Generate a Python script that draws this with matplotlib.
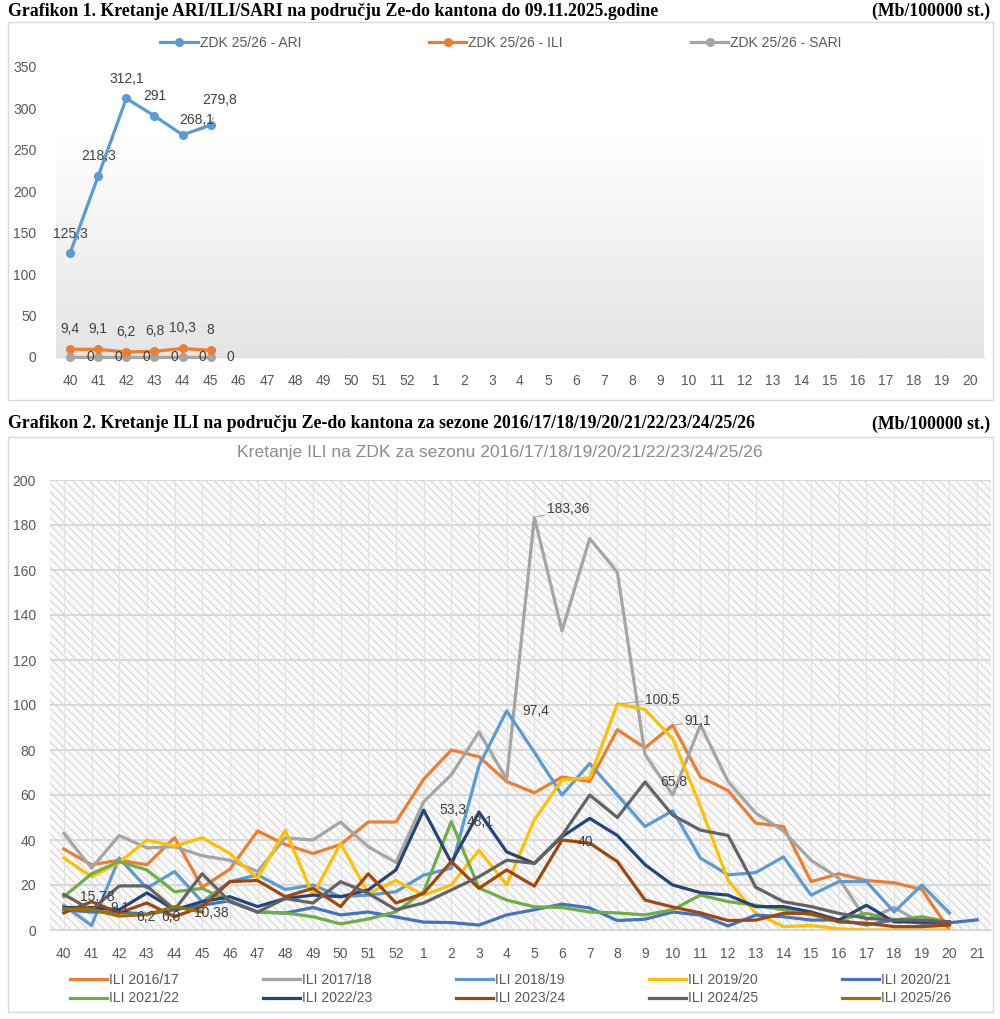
import numpy as np
import matplotlib
matplotlib.use("Agg")
import matplotlib.pyplot as plt
from matplotlib.patches import Rectangle
from matplotlib.colors import LinearSegmentedColormap

plt.rcParams['font.family'] = ['Liberation Sans', 'DejaVu Sans']

# ---------------- Grafikon 1 data
weeks1 = [str(w) for w in list(range(40, 53)) + list(range(1, 21))]
ari = [125.3, 218.3, 312.1, 291, 268.1, 279.8]
ili = [9.4, 9.1, 6.2, 6.8, 10.3, 8]
sari = [0, 0, 0, 0, 0, 0]

# ---------------- Grafikon 2 data (weeks 40..52, 1..21)
weeks2 = [str(w) for w in list(range(40, 53)) + list(range(1, 22))]
ili_1617 = [36, 29, 31, 29, 41, 19, 27, 44, 38, 34, 38, 48, 48,
            67, 80, 77, 66, 61, 68, 66, 89, 81, 91, 68, 62, 47.5, 46, 21.5, 25, 22, 21, 18, 0]
ili_1718 = [43, 27.5, 42, 36.5, 37, 33, 31, 26, 41, 40, 48, 37, 30,
            57, 69, 88, 67, 183.36, 133, 174, 159, 78, 60, 91.1, 66, 52, 44, 31, 23, 4.5, 10, 3, 3]
ili_1819 = [11, 2, 32, 18.6, 26, 12.5, 21.5, 24.5, 18, 20, 14.8, 15.5, 17,
            24.4, 27.5, 73, 97.4, 79, 60, 74, 60, 46, 53, 32, 24.5, 25.5, 32.5, 15.5, 21.5, 21.5, 8, 20, 7.6]
ili_1920 = [32, 23.7, 30, 40, 37.3, 41, 34, 23, 44.4, 15.5, 38.5, 16.3, 22,
            15.5, 20, 35.5, 20, 49, 66.7, 67.6, 100.5, 98, 85, 55, 22, 7.5, 1.5, 2, 0.5, 0, 0, 0, 0]
ili_2021 = [9, 8, 8, 7, 9, 11, 13, 8, 7.5, 10, 6.7, 8, 5.8,
            3.5, 3.3, 2.2, 6.7, 9, 11.5, 9.8, 4.2, 4.8, 8, 6.6, 1.8, 6.6, 5.9, 4.4, 4.5, 2.2, 4.5, 3, 3.2, 4.5]
ili_2122 = [14.8, 25, 30.4, 26.7, 17, 18.5, 12.6, 8, 7.6, 5.9, 2.7, 4.9, 8.1,
            17, 48.1, 18.7, 13.3, 10.3, 10, 8, 7.6, 6.7, 9, 15.5, 12.6, 11, 9, 6.7, 4.4, 7.4, 4.4, 5.9, 3.5]
ili_2223 = [10, 10, 9, 16.5, 9, 12.6, 14.8, 10.4, 14, 15.5, 14.8, 17.8, 26.7,
            53.3, 30, 52.4, 34.7, 29.6, 41.5, 49.6, 42, 29, 20, 16.6, 15.5, 10.4, 10.4, 8, 4.4, 11, 3.6, 3.6, 3.6]
ili_2324 = [7.6, 12.6, 7.6, 12, 5.9, 10.4, 21.5, 22, 14.8, 18.5, 10.4, 25, 12,
            16.3, 30.4, 18.5, 26.7, 19.5, 40, 38.6, 30.4, 13.3, 10.2, 7.6, 4.2, 4.4, 7.4, 7.4, 3.6, 3, 1.5, 1.5, 2.2]
ili_2425 = [15.78, 8.9, 19.6, 19.6, 9, 25, 12.6, 8, 14, 12, 21.5, 16.3, 9,
            12, 17.8, 23.7, 31, 29.6, 42, 60, 50, 65.8, 51, 44.4, 42, 19, 12.6, 10.4, 7.4, 5.2, 4.4, 4.4, 3.6]
ili_2526 = [9.4, 9.1, 6.2, 6.8, 10.38, 8]

seasons = ['ILI 2016/17', 'ILI 2017/18', 'ILI 2018/19', 'ILI 2019/20', 'ILI 2020/21',
           'ILI 2021/22', 'ILI 2022/23', 'ILI 2023/24', 'ILI 2024/25', 'ILI 2025/26']
series2 = [ili_1617, ili_1718, ili_1819, ili_1920, ili_2021,
           ili_2122, ili_2223, ili_2324, ili_2425, ili_2526]
colors2 = ['#ED7D31', '#A5A5A5', '#5B9BD5', '#FFC000', '#4472C4',
           '#70AD47', '#264478', '#9E480E', '#636363', '#997300']

# data labels: (series index, point index, text, dx px, dy px, leader)
labels2 = [(1, 17, '183,36', 13, 8, True), (2, 16, '97,4', 16, 0, False),
           (3, 20, '100,5', 28, 4, True), (0, 22, '91,1', 12, 4, True),
           (8, 21, '65,8', 15, 0, False), (6, 13, '53,3', 16, 0, False),
           (5, 14, '48,1', 15, 0, False), (7, 18, '40', 16, -2, False),
           (8, 0, '15,78', 16, -3, False), (9, 1, '9,1', 19, 2, False),
           (9, 2, '6,2', 17, -1, False), (9, 3, '6,8', 14, -2, False),
           (9, 4, '10,38', 19, -6, False)]

W, H = 1000, 1019
PT = 72 / 100.0  # px -> pt


def rect(x0, y0, x1, y1):
    return [x0 / W, 1 - y1 / H, (x1 - x0) / W, (y1 - y0) / H]


def fmt(v):
    return ('%g' % v).replace('.', ',')


fig = plt.figure(figsize=(W / 100, H / 100), dpi=100)
fig.patch.set_facecolor('white')

# titles
serif = dict(family='Liberation Serif', weight='bold', fontsize=12.8, color='black', va='center')
fig.text(8 / W, 1 - 11 / H, 'Grafikon 1. Kretanje ARI/ILI/SARI na području Ze-do kantona do 09.11.2025.godine',
         ha='left', **serif)
fig.text(990 / W, 1 - 11 / H, '(Mb/100000 st.)', ha='right', **serif)
fig.text(8 / W, 1 - 424 / H, 'Grafikon 2. Kretanje ILI na području Ze-do kantona za sezone 2016/17/18/19/20/21/22/23/24/25/26',
         ha='left', **serif)
fig.text(990 / W, 1 - 424 / H, '(Mb/100000 st.)', ha='right', **serif)

# outer chart frames
for y0, y1 in [(22, 400), (437, 1012)]:
    fig.patches.append(Rectangle((8 / W, 1 - y1 / H), 985 / W, (y1 - y0) / H, transform=fig.transFigure,
                                 facecolor='none', edgecolor='#D9D9D9', lw=1, zorder=-1))

# ---------------- chart 1
ax1 = fig.add_axes(rect(56, 67, 984, 357))
ax1.patch.set_alpha(0)
x1 = np.arange(len(weeks1))
ax1.set_xlim(-0.5, len(weeks1) - 0.5)
ax1.set_ylim(0, 350)
cmap = LinearSegmentedColormap.from_list('g', ['#E4E4E4', '#FFFFFF'])
ax1.imshow(np.linspace(0, 1, 100)[:, None], extent=(-0.5, len(weeks1) - 0.5, 0, 270), origin='lower',
           cmap=cmap, aspect='auto', zorder=0)
for s in ['top', 'right', 'left']:
    ax1.spines[s].set_visible(False)
ax1.spines['bottom'].set_color('#D9D9D9')
ax1.set_xticks(x1)
ax1.set_xticklabels(weeks1)
ax1.set_yticks(np.arange(0, 351, 50))
ax1.tick_params(length=0, labelsize=10, labelcolor='#595959')
ax1.tick_params(axis='y', pad=14)
ax1.tick_params(axis='x', pad=12)

kw = dict(lw=2.3, marker='o', ms=5.5, zorder=3, clip_on=False)
ax1.plot(x1[:len(sari)], sari, color='#A5A5A5', label='ZDK 25/26 - SARI', **kw)
ax1.plot(x1[:len(ili)], ili, color='#ED7D31', label='ZDK 25/26 - ILI', **kw)
ax1.plot(x1[:len(ari)], ari, color='#5B9BD5', label='ZDK 25/26 - ARI', **kw)

lab = dict(fontsize=10, color='#404040', textcoords='offset points', va='center')
ari_off = [(0, 19), (0, 20), (0, 19), (0, 20), (14, 15), (9, 25)]
for i, v in enumerate(ari):
    dx, dy = ari_off[i]
    lead = dict(arrowstyle='-', color='#A6A6A6', lw=0.8, shrinkA=6, shrinkB=4) if i == 5 else None
    ax1.annotate(fmt(v), (x1[i], v), xytext=(dx * PT, dy * PT), ha='center', arrowprops=lead, **lab)
for i, v in enumerate(ili):
    ax1.annotate(fmt(v), (x1[i], v), xytext=(0, 20 * PT), ha='center', **lab)
for i, v in enumerate(sari):
    ax1.annotate(fmt(v), (x1[i], v), xytext=(20 * PT, 0), ha='center', **lab)

h, l = ax1.get_legend_handles_labels()
ax1.legend(h[::-1], l[::-1], ncol=3, loc='center', bbox_to_anchor=((501 - 56) / 928.0, 1 + (67 - 43) / 290.0),
           frameon=False, fontsize=10, handlelength=2.7, handletextpad=0.15, columnspacing=9.2,
           labelcolor='#595959', borderpad=0)

# ---------------- chart 2
fig.text(500 / W, 1 - 452 / H, 'Kretanje ILI na ZDK za sezonu 2016/17/18/19/20/21/22/23/24/25/26',
         ha='center', va='center', fontsize=12.6, color='#8C8C8C')

plt.rcParams['hatch.linewidth'] = 1.0
ax2 = fig.add_axes(rect(50, 480, 991, 930))
ax2.patch.set_alpha(0)
x2 = np.arange(len(weeks2))
ax2.set_xlim(-0.5, len(weeks2) - 0.5)
ax2.set_ylim(0, 200)
ax2.add_patch(Rectangle((0, 0), 1, 1, transform=ax2.transAxes, facecolor='#FAFAFA',
                        edgecolor='#DDDDDD', hatch='\\\\\\\\', lw=0, zorder=0))
for s in ['top', 'right', 'left']:
    ax2.spines[s].set_visible(False)
ax2.spines['bottom'].set_color('#D9D9D9')
ax2.set_xticks(x2)
ax2.set_xticklabels(weeks2)
ax2.set_yticks(np.arange(0, 201, 20))
ax2.grid(axis='y', color='#D6D6D6', lw=1.3, zorder=1)
ax2.grid(axis='x', color='#E2E2E2', lw=0.8, zorder=1)
ax2.tick_params(length=0, labelsize=10, labelcolor='#595959')
ax2.tick_params(axis='y', pad=10)
ax2.tick_params(axis='x', pad=12)

lines2 = []
for name, vals, c in zip(seasons, series2, colors2):
    ln, = ax2.plot(x2[:len(vals)], vals, color=c, lw=2.3, label=name, zorder=3)
    lines2.append(ln)

for si, pi, txt, dx, dy, leader in labels2:
    v = series2[si][pi]
    ax2.annotate(txt, (x2[pi], v), xytext=(dx * PT, dy * PT), textcoords='offset points',
                 ha='left', va='center', fontsize=10, color='#404040', zorder=5,
                 arrowprops=dict(arrowstyle='-', color='#A6A6A6', lw=0.8, shrinkA=0, shrinkB=2) if leader else None)

# legend filled row by row (matplotlib fills column by column)
order = [0, 5, 1, 6, 2, 7, 3, 8, 4, 9]
ax2.legend([lines2[i] for i in order], [seasons[i] for i in order], ncol=5, loc='upper left',
           bbox_to_anchor=(14 / 941, -(976 - 930 - 9) / 450.0),
           frameon=False, fontsize=10, handlelength=2.7, handletextpad=0.15, columnspacing=6.0,
           labelcolor='#595959', borderaxespad=0, labelspacing=0.35)

fig.savefig('out.png', dpi=100, facecolor='white')
